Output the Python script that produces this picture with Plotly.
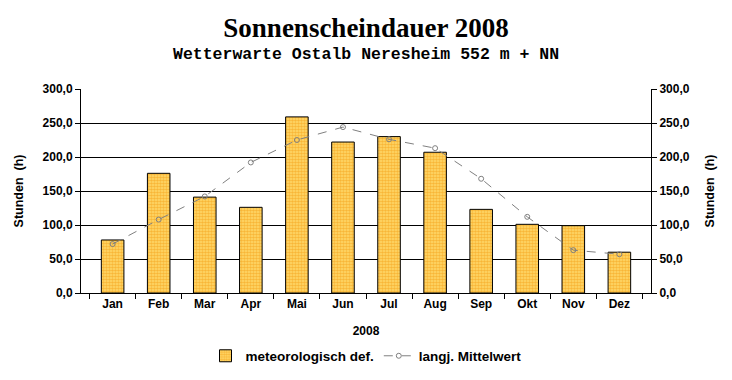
import plotly.graph_objects as go

months = ["Jan", "Feb", "Mar", "Apr", "Mai", "Jun", "Jul", "Aug", "Sep", "Okt", "Nov", "Dez"]
sonnenschein_2008 = [78, 176, 141, 126, 259, 222, 230, 207, 123, 101, 99, 60]
mittelwert = [72, 108, 142, 192, 225, 244, 226, 213, 168, 112, 63, 57]
y_ticks = [0, 50, 100, 150, 200, 250, 300]

W, H = 732, 380
L, R, T, B = 81, 81, 89, 87
PH = H - T - B

bold = dict(family="Liberation Sans, Arial, sans-serif", size=12, color="black", weight="bold")

fig = go.Figure()
fig.add_trace(go.Bar(
    x=months, y=sonnenschein_2008, name="meteorologisch def.",
    width=0.49,
    marker=dict(color="#FFB830",
                pattern=dict(shape=".", fgcolor="#F29000", bgcolor="#FFDC70", size=3, solidity=0.6),
                line=dict(color="black", width=1)),
))
fig.add_trace(go.Scatter(
    x=months, y=mittelwert, name="langj. Mittelwert", mode="lines+markers",
    line=dict(color="#808080", width=1, dash="dash"),
    marker=dict(symbol="circle-open", size=5, color="#808080", line=dict(width=1)),
))
# invisible trace to activate right axis
fig.add_trace(go.Scatter(x=months, y=mittelwert, yaxis="y2", mode="lines",
                         line=dict(width=0), showlegend=False, hoverinfo="skip", opacity=0))

yax = dict(range=[0, 300], tickvals=y_ticks, tickformat=".1f", ticks="outside", ticklen=5,
           tickcolor="black", showline=True, linecolor="black", linewidth=1,
           showgrid=True, gridcolor="black", gridwidth=1, zeroline=False, automargin=False,
           tickfont=bold, title=dict(text="Stunden  (h)", font=dict(bold, size=12.5), standoff=16))

fig.update_layout(
    width=W, height=H,
    margin=dict(l=L, r=R, t=T, b=B, autoexpand=False),
    paper_bgcolor="white", plot_bgcolor="white",
    separators=",.",
    title=dict(text="Sonnenscheindauer 2008", x=0.5, xanchor="center", y=1 - 28 / H, yanchor="middle",
               font=dict(family="Liberation Serif, Times New Roman, serif", size=27, color="black", weight="bold")),
    annotations=[dict(text="Wetterwarte Ostalb Neresheim 552 m + NN", xref="paper", yref="paper",
                      x=0.5, y=1 + (T - 55) / PH, xanchor="center", yanchor="middle", showarrow=False,
                      font=dict(family="Liberation Mono, Courier New, monospace", size=16.5, color="black", weight="bold"))],
    xaxis=dict(type="category", tickson="boundaries", ticks="outside", ticklen=5, tickcolor="black",
               showline=True, linecolor="black", linewidth=1, showgrid=False, tickfont=bold, automargin=False,
               title=dict(text="2008", font=bold, standoff=16)),
    yaxis=yax,
    yaxis2=dict(yax, overlaying="y", side="right", showgrid=False),
    showlegend=True,
    legend=dict(orientation="h", x=0.5, xanchor="center", y=-(356 - (H - B)) / PH, yanchor="middle",
                font=dict(bold, size=13.5), itemwidth=30, tracegroupgap=0),
)

fig.write_html("out.html", config={"displayModeBar": False},
               post_script="document.body.style.margin='0';document.body.style.padding='0';")
